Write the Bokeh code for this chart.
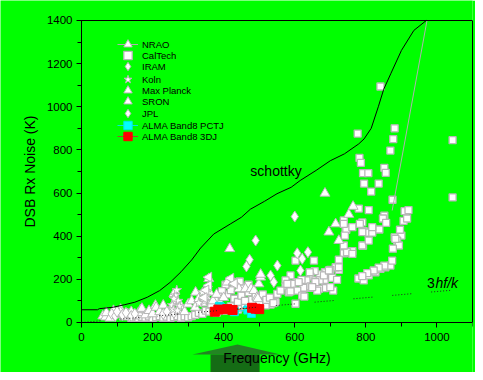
from bokeh.plotting import figure
from bokeh.models import (Legend, LegendItem, Label, Range1d, LinearAxis, FixedTicker,
                          SingleIntervalTicker)
from bokeh.embed import file_html
from bokeh.resources import INLINE

# ---------------- data (GHz, K) ----------------
caltech_f = [1044, 1044, 841, 777, 881, 877, 869, 782, 786, 792, 807, 852, 856, 795, 836, 815, 875,
             780, 808, 738, 790, 852, 848, 857, 909, 920, 906, 916, 743, 794, 806, 818, 838, 792,
             881, 900, 888, 893, 762, 738, 724, 779, 794, 808, 827, 841, 855, 869, 874, 876, 883,
             896, 783, 745, 741, 852, 836, 822, 804, 790, 724, 715, 700, 685, 670, 656, 644, 633,
             684, 705, 719, 658, 684, 708, 700, 619, 605, 670, 641, 624, 588, 602, 574, 654, 642,
             593, 574, 551, 583, 607, 621, 644, 668, 532, 546, 518, 602, 627, 611, 579, 588, 560,
             658, 682, 696, 724, 747, 738, 790, 790, 762, 738, 762, 808, 818, 663, 649,
             140, 150, 160, 170, 180, 190, 200, 210, 220, 230, 240, 250, 260, 270, 280, 290, 300,
             310, 320, 330, 340, 350, 360, 370, 380, 390, 400, 410, 420, 430, 440, 450, 460, 470,
             480, 500, 410, 420, 430, 440, 450, 460, 470, 480, 490, 500, 510, 520, 530, 540, 455,
             470, 445, 405, 395, 385, 375, 365]
caltech_k = [845, 580, 1094, 876, 900, 850, 797, 763, 740, 692, 692, 717, 694, 644, 644, 607, 569,
             528, 521, 473, 464, 495, 482, 462, 516, 521, 471, 482, 431, 423, 417, 417, 431, 356,
             395, 403, 380, 357, 331, 321, 291, 204, 195, 218, 233, 249, 256, 264, 287, 342, 388,
             430, 457, 430, 403, 264, 254, 241, 229, 215, 244, 256, 244, 233, 223, 238, 213, 195,
             198, 207, 198, 195, 159, 148, 164, 198, 187, 195, 161, 161, 218, 287, 195, 287, 233,
             179, 167, 133, 140, 148, 125, 167, 156, 83, 94, 79, 87, 120, 187, 179, 144, 148,
             187, 218, 241, 256, 326, 357, 357, 419, 318, 457, 442, 380, 442, 148, 164,
             22, 28, 20, 26, 22, 28, 20, 25, 30, 22, 27, 20, 25, 30, 22, 28, 24,
             30, 35, 45, 40, 55, 50, 60, 45, 70, 55, 65, 75, 50, 60, 70, 85, 90,
             75, 80, 130, 150, 110, 95, 125, 100, 140, 105, 120, 95, 130, 105, 115, 90, 165,
             175, 190, 175, 145, 120, 100, 85]

nrao_f = [60, 68, 70, 80, 90, 100, 110, 110, 120, 130, 140, 150, 160, 166, 170, 180, 190, 200, 208,
          210, 220, 230, 240, 250, 260, 260, 269, 270, 280, 290, 300, 310, 321, 320, 330, 340, 350,
          358, 360, 370, 380, 390, 400, 410, 417, 427, 433, 443, 461, 477, 485, 494, 496, 499, 504,
          504]
nrao_k = [30, 25, 45, 20, 55, 35, 40, 60, 25, 40, 50, 30, 45, 59, 65, 35, 55, 40, 79,
          70, 50, 80, 45, 60, 133, 90, 94, 55, 75, 50, 85, 100, 140, 70, 110, 90, 120,
          203, 140, 100, 130, 90, 115, 187, 342, 187, 179, 156, 156, 156, 148, 117, 110, 179, 210,
          223]
nrao_line_f = [874, 972]
nrao_line_k = [519, 1400]

iram_f = [490, 473, 464, 551, 607, 532, 541, 110, 85, 95, 100, 115, 125, 140, 150, 230, 240, 260]
iram_k = [380, 291, 260, 264, 321, 218, 187, 48, 40, 30, 50, 35, 45, 30, 40, 40, 50, 45]

koln_f = [264, 268, 272, 260, 255, 275, 258, 270, 350, 345, 340, 355, 330]
koln_k = [125, 150, 100, 110, 80, 75, 60, 55, 120, 100, 140, 160, 90]

mpi_f = [358, 358, 350, 345, 420, 430]
mpi_k = [210, 172, 150, 115, 205, 180]

sron_f = [685, 764, 752, 696, 715, 724]
sron_k = [599, 538, 501, 419, 457, 380]

jpl_f = [600, 637, 621, 616]
jpl_k = [491, 326, 295, 241]

pctj_f = [388, 392, 430, 468, 478]
pctj_k = [75, 70, 50, 58, 42]

dj3_f = [375, 385, 410, 425, 480, 490, 500]
dj3_k = [50, 60, 62, 58, 68, 64, 62]

schottky_f = [0, 45, 50, 90, 120, 150, 185, 220, 250, 280, 310, 335, 372, 420, 450, 475, 515, 550,
              590, 615, 660, 700, 740, 780, 795, 815, 835, 850, 870, 900, 935, 970]
schottky_k = [59, 59, 64, 71, 82, 94, 117, 148, 187, 235, 290, 345, 410, 458, 488, 525, 562, 597,
              627, 658, 705, 750, 782, 828, 851, 900, 1000, 1080, 1153, 1261, 1354, 1400]

hfk_f = [0, 1065]
hfk_k = [0, 153]

legend_labels = ["NRAO", "CalTech", "IRAM", "Koln", "Max Planck", "SRON", "JPL",
                 "ALMA Band8 PCTJ", "ALMA Band8 3DJ"]

x_ticks_interval = 200
y_ticks_interval = 200

# ---------------- figure ----------------
GREEN = "#00ff00"
FONT = "Liberation Sans"
# The frame fills the canvas (except 3 px on the right) so that the decorative arrow
# under the x title can be drawn and nothing is clipped; all axes are pinned.
p = figure(width=475, height=372, x_range=Range1d(-227.9, 1100), y_range=Range1d(-231.8, 1492.7),
           output_backend="svg", toolbar_location=None,
           min_border_left=0, min_border_right=3, min_border_top=0, min_border_bottom=0)
p.background_fill_color = GREEN
p.border_fill_color = GREEN
p.outline_line_color = None
p.xgrid.visible = False
p.ygrid.visible = False

p.xaxis.ticker = SingleIntervalTicker(interval=x_ticks_interval, num_minor_ticks=2)
p.yaxis.ticker = SingleIntervalTicker(interval=y_ticks_interval, num_minor_ticks=2)
p.xaxis.fixed_location = 0
p.yaxis.fixed_location = 0
p.xaxis.bounds = (0, 1100)
p.yaxis.bounds = (0, 1400)
for ax in (p.xaxis, p.yaxis):
    ax.axis_line_color = "black"
    ax.major_tick_line_color = "black"
    ax.minor_tick_line_color = "black"
    ax.major_tick_in = 0
    ax.major_tick_out = 5
    ax.minor_tick_in = 0
    ax.minor_tick_out = 4
    ax.major_label_text_font = FONT
    ax.major_label_text_font_size = "11.5px"
    ax.major_label_text_color = "black"
    ax.axis_label_text_font = FONT
    ax.axis_label_text_font_size = "14px"
    ax.axis_label_text_font_style = "normal"
    ax.axis_label_text_color = "black"
p.xaxis.axis_label = "Frequency (GHz)"
p.yaxis.axis_label = "DSB Rx Noise (K)"
p.xaxis.major_label_standoff = 6
p.yaxis.major_label_standoff = 4
p.xaxis.axis_label_standoff = 5
p.yaxis.axis_label_standoff = 6

# top and right frame lines
top_ax = LinearAxis(ticker=FixedTicker(ticks=[]), axis_line_color="black", bounds=(0, 1100),
                    fixed_location=1400,
                    major_tick_line_color=None, minor_tick_line_color=None,
                    major_label_text_font_size="0px", major_tick_out=0, minor_tick_out=0)
right_ax = LinearAxis(ticker=FixedTicker(ticks=[]), axis_line_color="black", bounds=(0, 1400),
                      major_tick_line_color=None, minor_tick_line_color=None,
                      major_label_text_font_size="0px", major_tick_out=0, minor_tick_out=0,
                      major_label_standoff=0)
p.add_layout(top_ax, "above")
p.add_layout(right_ax, "right")

# decorative arrow under the x title (not data)
p.patch([312, 439, 560], [-148, -102, -148], fill_color="#238423", line_color=None)
p.patch([363, 501, 501, 363], [-148, -148, -240, -240], fill_color="#156c15", line_color=None)

MK_LINE = "#b8b8b8"
r_cal = p.scatter(caltech_f, caltech_k, marker="square", size=7, fill_color="white",
                  line_color=MK_LINE, line_width=1.3)
r_nrao = p.scatter(nrao_f, nrao_k, marker="triangle", size=10, fill_color="white",
                   line_color=MK_LINE, line_width=1)
r_iram = p.scatter(iram_f, iram_k, marker="diamond", size=11, fill_color="white",
                   line_color=MK_LINE, line_width=1)
r_koln = p.scatter(koln_f, koln_k, marker="star", size=10, fill_color="white",
                   line_color=MK_LINE, line_width=1)
r_mpi = p.scatter(mpi_f, mpi_k, marker="triangle", angle=1.5708, size=10, fill_color="white",
                  line_color=MK_LINE, line_width=1)
r_sron = p.scatter(sron_f, sron_k, marker="triangle", size=10, fill_color="white",
                   line_color=MK_LINE, line_width=1)
r_jpl = p.scatter(jpl_f, jpl_k, marker="diamond", size=11, fill_color="white",
                  line_color=MK_LINE, line_width=1)

r_pctj_line = p.line(pctj_f, pctj_k, line_color="#00e5e5", line_width=1)
r_pctj = p.scatter(pctj_f, pctj_k, marker="square", size=8, fill_color="#00ffff",
                   line_color="#00e5e5", line_width=1)
r_dj3_line = p.line(dj3_f, dj3_k, line_color="#a0522d", line_width=1)
r_dj3 = p.scatter(dj3_f, dj3_k, marker="square", size=9, fill_color="#ff0000",
                  line_color="#ff0000", line_width=1)

r_nrao_line = p.line(nrao_line_f, nrao_line_k, line_color="#b0b0b0", line_width=1)
p.line(schottky_f, schottky_k, line_color="black", line_width=1)
p.line(hfk_f, hfk_k, line_color="#222222", line_width=1,
       line_dash="1 2 1 2 1 2 1 2 1 2 1 2 1 20")

p.add_layout(Label(x=475, y=700, text="schottky", text_font=FONT, text_font_size="14px",
                   text_color="black", text_baseline="alphabetic"))
p.add_layout(Label(x=972, y=185, text="3", text_font=FONT, text_font_size="14px",
                   text_color="black", text_baseline="alphabetic"))
p.add_layout(Label(x=996, y=185, text="hf/k", text_font=FONT, text_font_size="14px",
                   text_font_style="italic", text_color="black", text_baseline="alphabetic"))

# one single-row legend per entry so the rows can sit 11-12 px apart with large glyphs
legend_renderers = [[r_nrao_line, r_nrao], [r_cal], [r_iram], [r_koln], [r_mpi], [r_sron],
                    [r_jpl], [r_pctj_line, r_pctj], [r_dj3_line, r_dj3]]
row_offsets = [317, 306, 295, 282, 271, 260, 248, 236, 225]
for lab, rends, off in zip(legend_labels, legend_renderers, row_offsets):
    lg = Legend(items=[LegendItem(label=lab, renderers=rends)], location=(117, off))
    lg.background_fill_alpha = 0
    lg.border_line_alpha = 0
    lg.label_text_font = FONT
    lg.label_text_font_size = "9.5px"
    lg.label_text_color = "black"
    lg.glyph_width = 21
    lg.glyph_height = 22
    lg.label_height = 12
    lg.padding = 0
    lg.margin = 0
    lg.label_standoff = 4
    p.add_layout(lg)

open("out.html", "w").write(file_html(p, INLINE))
